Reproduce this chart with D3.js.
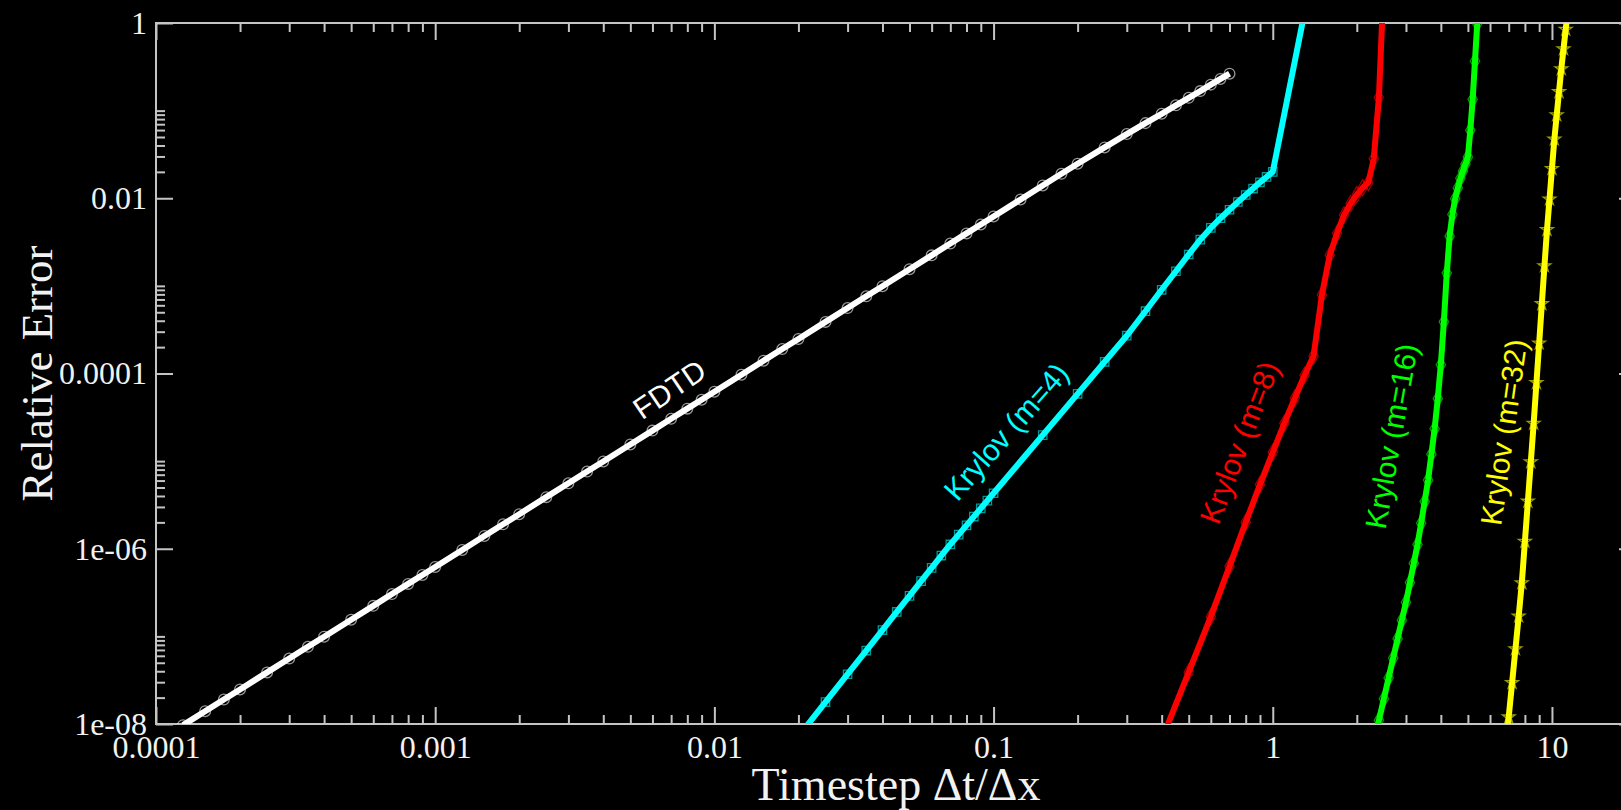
<!DOCTYPE html>
<html>
<head>
<meta charset="utf-8">
<script src="https://cdn.jsdelivr.net/npm/d3@7"></script>
<style>
  html, body { margin: 0; padding: 0; background: #000; overflow: hidden; }
  svg { display: block; }
</style>
</head>
<body>
<svg id="chart" width="1621" height="810"></svg>
<script>
// ---- data: relative error vs. timestep ----
const fdtdX = [1.25e-4, 1.5e-4, 1.75e-4, 2e-4, 2.5e-4, 3e-4, 3.5e-4, 4e-4, 5e-4, 6e-4, 7e-4, 8e-4, 9e-4,
  1e-3, 1.25e-3, 1.5e-3, 1.75e-3, 2e-3, 2.5e-3, 3e-3, 3.5e-3, 4e-3, 5e-3, 6e-3, 7e-3, 8e-3, 9e-3,
  0.01, 0.0125, 0.015, 0.0175, 0.02, 0.025, 0.03, 0.035, 0.04, 0.05, 0.06, 0.07, 0.08, 0.09,
  0.1, 0.125, 0.15, 0.175, 0.2, 0.25, 0.3, 0.35, 0.4, 0.45, 0.5, 0.55, 0.6, 0.65, 0.7];
const fdtdY = [9.7e-9, 1.4e-8, 1.9e-8, 2.48e-8, 3.88e-8, 5.58e-8, 7.6e-8, 9.92e-8, 1.55e-7, 2.23e-7, 3.04e-7, 3.97e-7, 5.02e-7,
  6.2e-7, 9.69e-7, 1.4e-6, 1.9e-6, 2.48e-6, 3.88e-6, 5.58e-6, 7.6e-6, 9.92e-6, 1.55e-5, 2.23e-5, 3.04e-5, 3.97e-5, 5.02e-5,
  6.2e-5, 9.69e-5, 1.4e-4, 1.9e-4, 2.48e-4, 3.88e-4, 5.58e-4, 7.6e-4, 9.92e-4, 1.55e-3, 2.23e-3, 3.04e-3, 3.97e-3, 5.02e-3,
  6.2e-3, 9.69e-3, 1.4e-2, 1.9e-2, 2.48e-2, 3.8e-2, 5.4e-2, 7.2e-2, 9.2e-2, 0.115, 0.14, 0.167, 0.198, 0.23, 0.264];

const krylov4X = [0.02, 0.025, 0.03, 0.035, 0.04, 0.045, 0.05, 0.055, 0.06, 0.065, 0.07, 0.075, 0.08, 0.085, 0.09, 0.095,
  0.1, 0.15, 0.2, 0.25, 0.3, 0.35, 0.4, 0.45, 0.5, 0.55, 0.6, 0.65, 0.7, 0.75, 0.8, 0.85, 0.9, 0.95, 1.0, 1.5];
const krylov4Y = [7.2e-9, 1.78e-8, 3.7e-8, 6.89e-8, 1.18e-7, 1.9e-7, 2.9e-7, 4.27e-7, 6.05e-7, 8.36e-7, 1.12e-6, 1.45e-6, 1.85e-6, 2.33e-6, 2.89e-6, 3.54e-6,
  4.3e-6, 1.98e-5, 5.86e-5, 1.36e-4, 2.7e-4, 5.14e-4, 9.02e-4, 1.47e-3, 2.28e-3, 3.37e-3, 4.59e-3, 5.92e-3, 7.4e-3, 9.06e-3, 1.09e-2, 1.29e-2, 1.52e-2, 1.75e-2, 2.0e-2, 13.1];

const krylov8X = [0.4, 0.5, 0.6, 0.7, 0.8, 0.9, 1.0, 1.1, 1.2, 1.3, 1.4, 1.5, 1.6, 1.7, 1.8, 1.9, 2.0, 2.1, 2.2, 2.3, 2.4, 2.5];
const krylov8Y = [6.6e-9, 3.9e-8, 1.68e-7, 6.3e-7, 2.0e-6, 5.4e-6, 1.26e-5, 2.7e-5, 5.25e-5, 9.55e-5, 1.58e-4, 7.9e-4, 2.24e-3, 3.98e-3, 6.46e-3, 8.7e-3, 1.1e-2, 1.32e-2, 1.51e-2, 2.82e-2, 0.141, 3.16];

const krylov16X = [2.3, 2.4, 2.5, 2.6, 2.7, 2.8, 2.9, 3.0, 3.1, 3.2, 3.3, 3.4, 3.5, 3.6, 3.7, 3.8, 3.9, 4.0, 4.1, 4.2, 4.3,
  4.4, 4.5, 4.6, 4.7, 4.8, 4.9, 5.0, 5.1, 5.2, 5.3, 5.4, 5.5];
const krylov16Y = [6.1e-9, 1.1e-8, 1.94e-8, 3.35e-8, 5.66e-8, 9.4e-8, 1.53e-7, 2.45e-7, 4.11e-7, 6.81e-7, 1.12e-6, 1.96e-6, 3.45e-6, 6.07e-6, 1.2e-5, 2.34e-5, 5.16e-5, 1.26e-4, 3.89e-4, 1.4e-3, 3.69e-3,
  6.53e-3, 9.89e-3, 1.31e-2, 1.69e-2, 2.04e-2, 2.46e-2, 2.95e-2, 5.96e-2, 0.134, 0.368, 0.98, 2.55];

const krylov32X = [6.8, 7.0, 7.2, 7.4, 7.6, 7.8, 8.0, 8.2, 8.4, 8.6, 8.8, 9.0, 9.2, 9.4, 9.6, 9.8, 10.0, 10.2, 10.4, 10.6, 10.8, 11.0, 11.2, 11.4];
const krylov32Y = [4.7e-9, 1.2e-8, 2.96e-8, 7.18e-8, 1.7e-7, 4.07e-7, 1.21e-6, 3.48e-6, 9.79e-6, 2.69e-5, 7.83e-5, 2.22e-4, 6.24e-4, 1.69e-3, 4.37e-3, 9.77e-3, 2.17e-2, 4.72e-2, 8.91e-2, 0.164, 0.299, 0.507, 0.843, 1.39];

const seriesNames = ["FDTD", "Krylov (m=4)", "Krylov (m=8)", "Krylov (m=16)", "Krylov (m=32)"];

// axis ticks and labels
const xMajorTicks = [1e-4, 1e-3, 1e-2, 0.1, 1, 10];
const xTickLabels = ["0.0001", "0.001", "0.01", "0.1", "1", "10"];
const yMajorTicks = [1e-8, 1e-6, 1e-4, 1e-2, 1];
const yTickLabels = ["1e-08", "1e-06", "0.0001", "0.01", "1"];

// ---- layout ----
const plot = { left: 156, right: 1636, top: 23, bottom: 724 };
const svg = d3.select("#chart");
svg.append("rect").attr("width", 1621).attr("height", 810).attr("fill", "#000");

const x = d3.scaleLog().domain([1e-4, 20]).range([plot.left, plot.right]);
const y = d3.scaleLog().domain([1e-8, 1]).range([plot.bottom, plot.top]);

// minor ticks: 2..9 within each x decade; 2..10 above each y major
const xMinorTicks = [];
xMajorTicks.forEach(d => { for (let k = 2; k <= 9; k++) { const v = d * k; if (v < 20) xMinorTicks.push(v); } });
const yMinorTicks = [];
yMajorTicks.slice(0, -1).forEach(d => { for (let k = 2; k <= 10; k++) yMinorTicks.push(d * k); });

const axisColor = "#c4c4c4";
const tickFont = "'Liberation Serif', 'Times New Roman', serif";

function styleAxis(g) {
  g.select(".domain").remove();
  g.selectAll(".tick line").attr("stroke", axisColor).attr("stroke-width", 2);
  g.selectAll(".tick text").attr("fill", "#f2f2f2").style("font-family", tickFont).style("font-size", "32px");
}

// bottom
svg.append("g").attr("transform", `translate(0,${plot.bottom})`)
  .call(d3.axisBottom(x).tickValues(xMinorTicks).tickFormat("").tickSizeInner(-9).tickSizeOuter(0))
  .call(styleAxis);
svg.append("g").attr("transform", `translate(0,${plot.bottom})`)
  .call(d3.axisBottom(x).tickValues(xMajorTicks).tickFormat((d, i) => xTickLabels[i]).tickSizeInner(-17).tickSizeOuter(0).tickPadding(11))
  .call(styleAxis);
// top
svg.append("g").attr("transform", `translate(0,${plot.top})`)
  .call(d3.axisTop(x).tickValues(xMinorTicks).tickFormat("").tickSizeInner(-9).tickSizeOuter(0))
  .call(styleAxis);
svg.append("g").attr("transform", `translate(0,${plot.top})`)
  .call(d3.axisTop(x).tickValues(xMajorTicks).tickFormat("").tickSizeInner(-17).tickSizeOuter(0))
  .call(styleAxis);
// left
svg.append("g").attr("transform", `translate(${plot.left},0)`)
  .call(d3.axisLeft(y).tickValues(yMinorTicks).tickFormat("").tickSizeInner(-9).tickSizeOuter(0))
  .call(styleAxis);
svg.append("g").attr("transform", `translate(${plot.left},0)`)
  .call(d3.axisLeft(y).tickValues(yMajorTicks).tickFormat((d, i) => yTickLabels[i]).tickSizeInner(-17).tickSizeOuter(0).tickPadding(9))
  .call(styleAxis);
// right
svg.append("g").attr("transform", `translate(${plot.right},0)`)
  .call(d3.axisRight(y).tickValues(yMinorTicks).tickFormat("").tickSizeInner(-9).tickSizeOuter(0))
  .call(styleAxis);
svg.append("g").attr("transform", `translate(${plot.right},0)`)
  .call(d3.axisRight(y).tickValues(yMajorTicks).tickFormat("").tickSizeInner(-17).tickSizeOuter(0))
  .call(styleAxis);

// frame
svg.append("rect")
  .attr("x", plot.left).attr("y", plot.top)
  .attr("width", plot.right - plot.left).attr("height", plot.bottom - plot.top)
  .attr("fill", "none").attr("stroke", axisColor).attr("stroke-width", 2);

// axis titles
svg.append("text")
  .attr("x", (plot.left + plot.right) / 2).attr("y", 800)
  .attr("text-anchor", "middle").attr("fill", "#f2f2f2")
  .style("font-family", tickFont).style("font-size", "46px")
  .text("Timestep Δt/Δx");
svg.append("text")
  .attr("transform", `translate(37,${(plot.top + plot.bottom) / 2}) rotate(-90)`)
  .attr("text-anchor", "middle").attr("dominant-baseline", "central").attr("fill", "#f2f2f2")
  .style("font-family", tickFont).style("font-size", "45px")
  .text("Relative Error");

// ---- series ----
const series = [
  { name: seriesNames[0], xs: fdtdX, ys: fdtdY, color: "#ffffff", symbol: d3.symbolCircle, size: 90 },
  { name: seriesNames[1], xs: krylov4X, ys: krylov4Y, color: "#00ffff", symbol: d3.symbolSquare, size: 70 },
  { name: seriesNames[2], xs: krylov8X, ys: krylov8Y, color: "#ff0000", symbol: d3.symbolDiamond, size: 75 },
  { name: seriesNames[3], xs: krylov16X, ys: krylov16Y, color: "#00ff00", symbol: d3.symbolDiamond, size: 75 },
  { name: seriesNames[4], xs: krylov32X, ys: krylov32Y, color: "#ffff00", symbol: d3.symbolStar, size: 50 }
];

svg.append("defs").append("clipPath").attr("id", "plotClip")
  .append("rect").attr("x", plot.left).attr("y", plot.top)
  .attr("width", plot.right - plot.left).attr("height", plot.bottom - plot.top);

const layer = svg.append("g").attr("clip-path", "url(#plotClip)");
const line = d3.line().x(d => x(d[0])).y(d => y(d[1]));

series.forEach(s => {
  const pts = s.xs.map((v, i) => [v, s.ys[i]]);
  const g = layer.append("g");
  g.selectAll("path.sym").data(pts).join("path")
    .attr("class", "sym")
    .attr("transform", d => `translate(${x(d[0])},${y(d[1])})`)
    .attr("d", d3.symbol().type(s.symbol).size(s.size))
    .attr("fill", "none").attr("stroke", s.color)
    .attr("stroke-width", 1.3).attr("stroke-opacity", 0.6);
  g.append("path").datum(pts)
    .attr("d", line)
    .attr("fill", "none").attr("stroke", s.color)
    .attr("stroke-width", 6).attr("stroke-linejoin", "round");
});

// ---- in-plot curve labels (anchored in data coordinates) ----
const curveLabels = [
  { text: seriesNames[0], at: [6.9e-3, 6.6e-5], angle: -34, color: "#ffffff" },
  { text: seriesNames[1], at: [0.111, 2.17e-5], angle: -48.5, color: "#00ffff" },
  { text: seriesNames[2], at: [0.759, 1.63e-5], angle: -69, color: "#ff0000" },
  { text: seriesNames[3], at: [2.66, 1.93e-5], angle: -80, color: "#00ff00" },
  { text: seriesNames[4], at: [6.72, 2.14e-5], angle: -82, color: "#ffff00" }
];
svg.append("g").selectAll("text").data(curveLabels).join("text")
  .attr("transform", d => `translate(${x(d.at[0])},${y(d.at[1])}) rotate(${d.angle})`)
  .attr("text-anchor", "middle").attr("dominant-baseline", "central")
  .attr("fill", d => d.color)
  .style("font-family", "'Liberation Sans', Arial, sans-serif").style("font-size", "30px")
  .text(d => d.text);
</script>
</body>
</html>
